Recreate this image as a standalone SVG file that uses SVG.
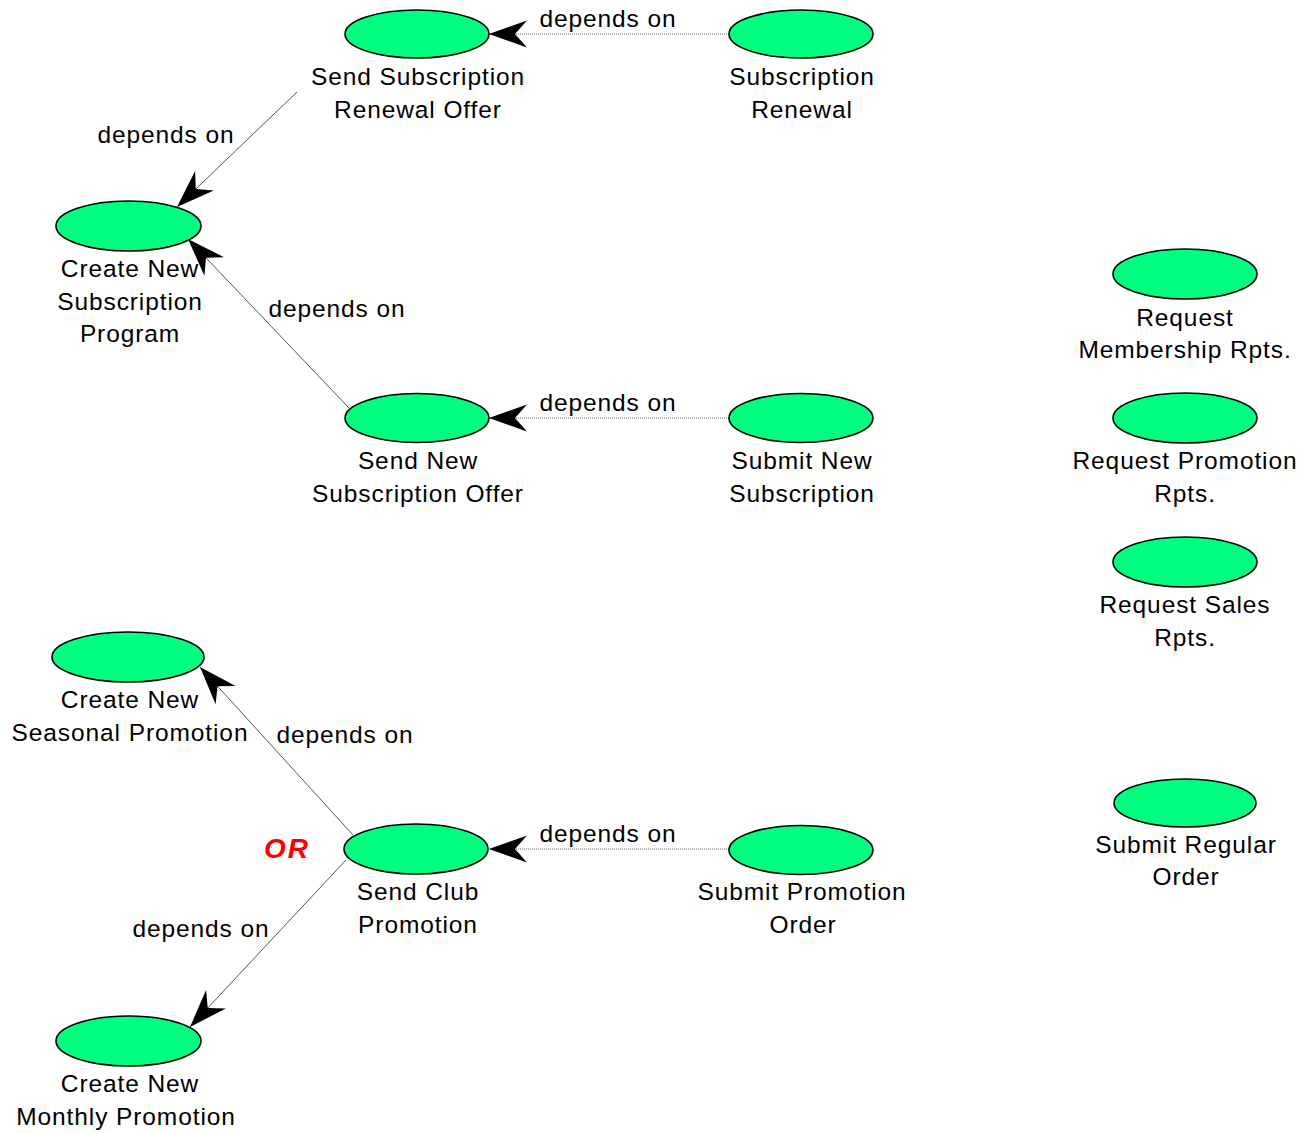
<svg xmlns="http://www.w3.org/2000/svg" width="1315" height="1133" viewBox="0 0 1315 1133">
  <style>
    .node ellipse { fill: #00FF80; stroke: #000; stroke-width: 1.6; }
    .node text, .lbl { font-family: "Liberation Sans", Arial, sans-serif; font-size: 24.5px; letter-spacing: 0.9px; fill: #000; text-anchor: middle; }
    .dep { fill: none; stroke: #555; stroke-width: 1; marker-end: url(#arrow); }
    .dep.dot { stroke: #666; stroke-dasharray: 1 1; }
    .or { font-family: "Liberation Sans", Arial, sans-serif; font-size: 28px; letter-spacing: 2px; font-weight: bold; font-style: italic; fill: #FF0000; text-anchor: middle; }
  </style>
  <defs>
    <marker id="arrow" markerUnits="userSpaceOnUse" viewBox="-40 -15 42 30" refX="0" refY="0" markerWidth="42" markerHeight="30" orient="auto">
      <path d="M0,0 L-38,-13.5 L-26,0 L-38,13.5 Z" fill="#000"/>
    </marker>
  </defs>
  <rect width="1315" height="1133" fill="#fff"/>

  <g id="connectors">
    <line class="dep dot" x1="729" y1="34" x2="489" y2="34"/>
    <line class="dep" x1="297" y1="92" x2="177" y2="207"/>
    <line class="dep" x1="349" y1="408" x2="188" y2="239"/>
    <line class="dep dot" x1="729" y1="418" x2="489" y2="418"/>
    <line class="dep" x1="353" y1="835" x2="200" y2="667"/>
    <line class="dep" x1="346" y1="860" x2="190" y2="1027"/>
    <line class="dep dot" x1="729" y1="849" x2="489" y2="849"/>
    <text class="lbl" x="608" y="27">depends on</text>
    <text class="lbl" x="166" y="143">depends on</text>
    <text class="lbl" x="337" y="317">depends on</text>
    <text class="lbl" x="608" y="411">depends on</text>
    <text class="lbl" x="345" y="743">depends on</text>
    <text class="lbl" x="608" y="842">depends on</text>
    <text class="lbl" x="201" y="937">depends on</text>
    <text class="or" x="287" y="858">OR</text>
  </g>

  <g id="send-subscription-renewal-offer" class="node">
    <ellipse cx="417" cy="34" rx="72" ry="24"/>
    <text x="418" y="85">Send Subscription</text>
    <text x="418" y="118">Renewal Offer</text>
  </g>
  <g id="subscription-renewal" class="node">
    <ellipse cx="801" cy="34" rx="72" ry="24"/>
    <text x="802" y="85">Subscription</text>
    <text x="802" y="118">Renewal</text>
  </g>
  <g id="create-new-subscription-program" class="node">
    <ellipse cx="128.5" cy="226" rx="72.5" ry="25"/>
    <text x="130" y="277">Create New</text>
    <text x="130" y="310">Subscription</text>
    <text x="130" y="342">Program</text>
  </g>
  <g id="send-new-subscription-offer" class="node">
    <ellipse cx="417" cy="418" rx="72" ry="24.5"/>
    <text x="418" y="469">Send New</text>
    <text x="418" y="502">Subscription Offer</text>
  </g>
  <g id="submit-new-subscription" class="node">
    <ellipse cx="801" cy="418" rx="72" ry="24.5"/>
    <text x="802" y="469">Submit New</text>
    <text x="802" y="502">Subscription</text>
  </g>
  <g id="request-membership-rpts" class="node">
    <ellipse cx="1185" cy="274" rx="72" ry="25"/>
    <text x="1185" y="326">Request</text>
    <text x="1185" y="358">Membership Rpts.</text>
  </g>
  <g id="request-promotion-rpts" class="node">
    <ellipse cx="1185" cy="418" rx="72" ry="25"/>
    <text x="1185" y="469">Request Promotion</text>
    <text x="1185" y="502">Rpts.</text>
  </g>
  <g id="request-sales-rpts" class="node">
    <ellipse cx="1185" cy="562" rx="72" ry="25"/>
    <text x="1185" y="613">Request Sales</text>
    <text x="1185" y="646">Rpts.</text>
  </g>
  <g id="submit-regular-order" class="node">
    <ellipse cx="1185" cy="803" rx="71" ry="24"/>
    <text x="1186" y="853">Submit Regular</text>
    <text x="1186" y="885">Order</text>
  </g>
  <g id="create-new-seasonal-promotion" class="node">
    <ellipse cx="128" cy="657" rx="76" ry="25"/>
    <text x="130" y="708">Create New</text>
    <text x="130" y="741">Seasonal Promotion</text>
  </g>
  <g id="send-club-promotion" class="node">
    <ellipse cx="416" cy="849" rx="72" ry="25"/>
    <text x="418" y="900">Send Club</text>
    <text x="418" y="933">Promotion</text>
  </g>
  <g id="submit-promotion-order" class="node">
    <ellipse cx="801" cy="850" rx="72" ry="24.5"/>
    <text x="802" y="900">Submit Promotion</text>
    <text x="803" y="933">Order</text>
  </g>
  <g id="create-new-monthly-promotion" class="node">
    <ellipse cx="128.5" cy="1041" rx="72.5" ry="25"/>
    <text x="130" y="1092">Create New</text>
    <text x="126" y="1125">Monthly Promotion</text>
  </g>
</svg>
